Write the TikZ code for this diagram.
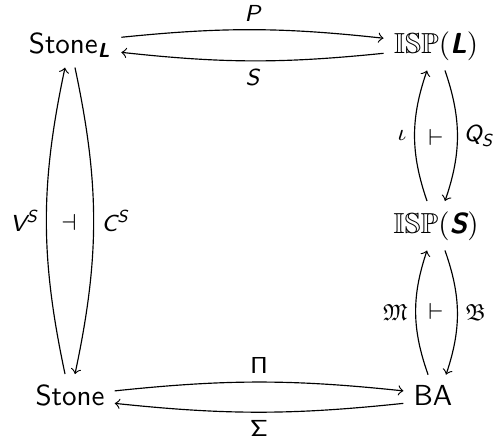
\documentclass[tikz,border=0pt]{standalone}
\usepackage{amssymb}
\DeclareMathAlphabet{\mathsfit}{TU}{lmss}{m}{sl}
\DeclareMathAlphabet{\mathsfbi}{TU}{lmss}{bx}{sl}
\begin{document}
\begin{tikzpicture}[x=0.345pt,y=-0.345pt,
  obj/.style={font=\sffamily, anchor=base},
  lbl/.style={font=\footnotesize, inner sep=2.6pt}]
  \useasboundingbox (0,0) rectangle (495,438);
  \node[obj] (stoneL) at (70,53) {Stone$_{\mathsfbi{L}}$};
  \node[obj] (ispL) at (436,53) {$\mathbb{ISP}(\mathsfbi{L})$};
  \node[obj] (ispS) at (436,233) {$\mathbb{ISP}(\mathsfbi{S})$};
  \node[obj] (stone) at (70,405) {Stone};
  \node[obj] (ba) at (433,405) {BA};
  \draw[->] ([yshift=2.6pt]stoneL.east) to[bend left=6] node[lbl,above] {$\mathsfit{P}$} ([yshift=2.6pt]ispL.west);
  \draw[->] ([yshift=-2.6pt]ispL.west) to[bend left=6] node[lbl,below] {$\mathsfit{S}$} ([yshift=-2.6pt]stoneL.east);
  \draw[->] ([yshift=1.4pt]stone.east) to[bend left=6] node[lbl,above] {$\mathsf{\Pi}$} ([yshift=1.4pt]ba.west);
  \draw[->] ([yshift=-2.9pt]ba.west) to[bend left=6] node[lbl,below] {$\mathsf{\Sigma}$} ([yshift=-2.9pt]stone.east);
  \draw[->] ([xshift=-1.72pt]stone.north) to[bend left=12] node[lbl,left] {$\mathsfit{V}^{\mathsfit{S}}$} ([xshift=-1.72pt]stoneL.south);
  \draw[->] ([xshift=1.72pt]stoneL.south) to[bend left=12] node[lbl,right] {$\mathsfit{C}^{\mathsfit{S}}$} ([xshift=1.72pt]stone.north);
  \draw[->] ([xshift=-3.1pt]ispS.north) to[bend left=19] node[lbl,left] {$\iota$} ([xshift=-3.1pt]ispL.south);
  \draw[->] ([xshift=3.1pt]ispL.south) to[bend left=19] node[lbl,right,inner sep=2pt] {$\mathsfit{Q}_{\mathsfit{S}}$} ([xshift=3.1pt]ispS.north);
  \draw[->] ([xshift=-1.7pt]ba.north) to[bend left=19] node[lbl,left] {$\mathfrak{M}$} ([xshift=-3.1pt]ispS.south);
  \draw[->] ([xshift=3.1pt]ispS.south) to[bend left=19] node[lbl,right] {$\mathfrak{B}$} ([xshift=4.5pt]ba.north);
  \node[lbl] (adjL) at (69,222) {$\dashv$};
  \node[lbl] (adjU) at (436,137) {$\vdash$};
  \node[lbl] (adjD) at (436,311) {$\vdash$};
\end{tikzpicture}
\end{document}
